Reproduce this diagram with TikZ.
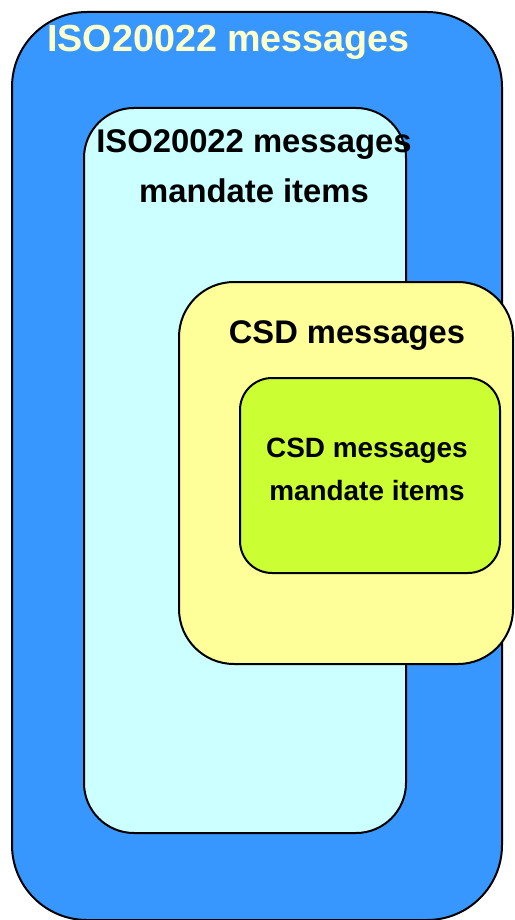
\documentclass[tikz,border=0pt]{standalone}
\usepackage{fontspec}
\setmainfont{Liberation Sans}
\definecolor{outerblue}{HTML}{3797FF}
\definecolor{paleCyan}{HTML}{CCFFFF}
\definecolor{paleYellow}{HTML}{FFFF99}
\definecolor{limeGreen}{HTML}{CCFF33}
\definecolor{labelYellow}{HTML}{FFFFCC}
\begin{document}
\begin{tikzpicture}[x=1pt,y=-1pt,
  box/.style={draw=black, line width=2pt, inner sep=0pt, outer sep=0pt, rectangle},
  lbl/.style={anchor=base, inner sep=0pt, font=\bfseries}]
\useasboundingbox (0,0) rectangle (514,920);
\node[box, fill=outerblue, rounded corners=75pt, minimum width=490pt, minimum height=908pt] (outer) at (257,466) {};
\node[box, fill=paleCyan, rounded corners=50pt, minimum width=322pt, minimum height=725pt] (cyan) at (245,470.5) {};
\node[box, fill=paleYellow, rounded corners=55pt, minimum width=334pt, minimum height=382pt] (yellow) at (346,473) {};
\node[box, fill=limeGreen, rounded corners=32pt, minimum width=260pt, minimum height=195pt] (green) at (370,475.5) {};
\node[lbl, anchor=base west, text=labelYellow, font=\bfseries\fontsize{37.7}{37.7}\selectfont] (t1) at (47,52) {ISO20022 messages};
\node[lbl, font=\bfseries\fontsize{32.8}{32.8}\selectfont] (t2) at (254,153) {ISO20022 messages};
\node[lbl, font=\bfseries\fontsize{32.8}{32.8}\selectfont] (t3) at (254,202) {mandate items};
\node[lbl, font=\bfseries\fontsize{32.7}{32.7}\selectfont] (t4) at (347,343) {CSD messages};
\node[lbl, font=\bfseries\fontsize{27.9}{27.9}\selectfont] (t5) at (367,457) {CSD messages};
\node[lbl, font=\bfseries\fontsize{27.9}{27.9}\selectfont] (t6) at (367,500) {mandate items};
\end{tikzpicture}
\end{document}
